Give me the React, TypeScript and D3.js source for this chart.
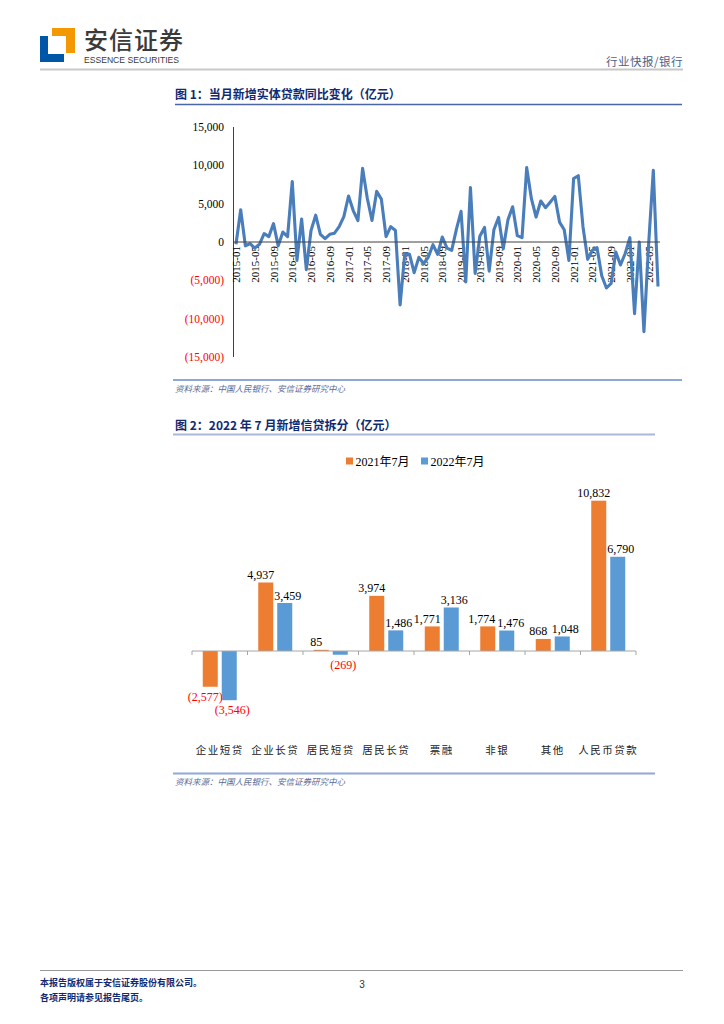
import React from "react";
import * as d3 from "d3";

// ---------- Chart 1 data: 当月新增实体贷款同比变化 (亿元), monthly 2015-01 .. 2022-07 ----------
const loanYoYChange: number[] = [
  -300, 4200, -500, -200, -800, -300, 1100, 700, 2400, -500, 1300, 700,
  7900, -2400, 3000, -3600, 1500, 3500, 1000, 450, 1000, 1150, 2000, 3300,
  6000, 4100, 2800, 9600, 5700, 2800, 6600, 5600, 700, 2000, 1500, -8200,
  -1500, -1600, -4000, -2000, -2800, -2000, -350, -1600, 650, -800, -1100, 1650,
  4000, -5200, 7100, -4100, 750, 1900, -3800, 1600, 3200, -870, 2900, 4600,
  830, 560, 9700, 5650, 3260, 5350, 4480, 5200, 5950, 2600, 1600, -2400,
  8260, 8650, 2000, -2260, -1100, -740, -4400, -6000, -5400, -1300, -3000, -1500,
  560, -9350, 0, -11700, -300, 9350, -5800,
];
const xTickLabels: string[] = [
  "2015-01", "2015-05", "2015-09", "2016-01", "2016-05", "2016-09",
  "2017-01", "2017-05", "2017-09", "2018-01", "2018-05", "2018-09",
  "2019-01", "2019-05", "2019-09", "2020-01", "2020-05", "2020-09",
  "2021-01", "2021-05", "2021-09", "2022-01", "2022-05",
];
const xTickStep = 4;
const yTicks1: number[] = [15000, 10000, 5000, 0, -5000, -10000, -15000];

// ---------- Chart 2 data: 2022年7月新增信贷拆分 (亿元) ----------
const categories: string[] = ["企业短贷", "企业长贷", "居民短贷", "居民长贷", "票融", "非银", "其他", "人民币贷款"];
const seriesNames: string[] = ["2021年7月", "2022年7月"];
const values2021: number[] = [-2577, 4937, 85, 3974, 1771, 1774, 868, 10832];
const values2022: number[] = [-3546, 3459, -269, 1486, 3136, 1476, 1048, 6790];
const seriesColors: string[] = ["#ED7D31", "#5B9BD5"];

const fmt = d3.format(",");
const fmtNum = (v: number) => (v < 0 ? `(${fmt(-v)})` : fmt(v));

const SERIF = "'Liberation Serif', 'Times New Roman', 'Noto Sans CJK SC', serif";
const CJK = "'Noto Sans CJK SC', sans-serif";
const TITLE_BLUE = "#102a72";

// approximate width of a numeric label in 12px serif
const labelWidth = (s: string) => s.split("").reduce((w, ch) => w + (/[0-9]/.test(ch) ? 6 : ch === "," ? 3 : 4), 0);

function Header() {
  return (
    <g>
      {/* logo */}
      <rect x={52} y={28} width={23} height={8} fill="#F39800" />
      <rect x={66} y={28} width={9} height={25} fill="#F39800" />
      <rect x={40} y={36} width={8} height={26} fill="#0057A8" />
      <rect x={40} y={54} width={24} height={8} fill="#0057A8" />
      <text x={84} y={49} fontFamily={CJK} fontSize={24} fontWeight={500} fill="#3a3a3a" letterSpacing={1}>安信证券</text>
      <text x={84} y={63} fontFamily="'Liberation Sans Narrow', 'Liberation Sans', sans-serif" fontSize={8.5} fill="#3a3a3a" textLength={95} lengthAdjust="spacingAndGlyphs">ESSENCE SECURITIES</text>
      <text x={683} y={66} textAnchor="end" fontFamily={CJK} fontSize={11.5} fill="#4d6289" letterSpacing={0.5}>行业快报/银行</text>
      <line x1={40} x2={683} y1={69.5} y2={69.5} stroke="#c8c8c8" strokeWidth={2} />
    </g>
  );
}

function Chart1() {
  const x = d3.scaleLinear().domain([0, loanYoYChange.length - 1]).range([236, 658]);
  const y = d3.scaleLinear().domain([-15000, 15000]).range([357, 127]);
  const line = d3.line<number>().x((_, i) => x(i)).y((d) => y(d));
  return (
    <g>
      <text x={175} y={99} fontFamily={CJK} fontSize={12} fontWeight={700} fill={TITLE_BLUE}>图 1：当月新增实体贷款同比变化（亿元）</text>
      <line x1={175} x2={682} y1={104.5} y2={104.5} stroke="#4a66a8" strokeWidth={1.5} />
      {/* y axis */}
      <line x1={233.5} x2={233.5} y1={127} y2={357} stroke="#404040" strokeWidth={1} />
      {yTicks1.map((t) => (
        <text key={t} x={224} y={y(t) + 4} textAnchor="end" fontFamily={SERIF} fontSize={11.5} fill={t < 0 ? "#ff0000" : "#000"}>
          {t === 0 ? "0" : fmtNum(t)}
        </text>
      ))}
      {/* x labels */}
      {xTickLabels.map((lab, k) => {
        const px = x(k * xTickStep);
        return (
          <text key={lab} transform={`translate(${px + 4},${246}) rotate(-90)`} textAnchor="end" fontFamily={SERIF} fontSize={11} fill="#000">
            {lab}
          </text>
        );
      })}
      <path d={line(loanYoYChange) || ""} fill="none" stroke="#4a7ebb" strokeWidth={3.1} strokeLinejoin="round" />
      <line x1={233.5} x2={660} y1={y(0)} y2={y(0)} stroke="#404040" strokeWidth={1} />
      <line x1={173} x2={682} y1={380} y2={380} stroke="#8fa8d8" strokeWidth={2} />
      <text x={175} y={392} fontFamily={CJK} fontSize={8.5} fontStyle="italic" fill="#5a6b95">资料来源：中国人民银行、安信证券研究中心</text>
    </g>
  );
}

function Chart2() {
  const x0 = d3.scaleBand<string>().domain(categories).range([192, 636]).paddingInner(0).paddingOuter(0);
  const x1 = d3.scaleBand<string>().domain(seriesNames).range([0, x0.bandwidth()]).paddingInner(0.21).paddingOuter(0.566);
  const y = d3.scaleLinear().domain([-6000, 12000]).range([651 + 6000 * 0.013876, 651 - 12000 * 0.013876]);
  const series = [values2021, values2022];

  // data-label placement: small per-series shift, then push apart colliding pairs
  const labelPos = categories.map((c, ci) => {
    const pos = series.map((vals, si) => {
      const v = vals[ci];
      const cx = (x0(c) as number) + (x1(seriesNames[si]) as number) + x1.bandwidth() / 2 + (si === 0 ? -5 : 3);
      const ly = v >= 0 ? y(v) - 3.5 : y(v) + 14;
      return { cx, ly, text: fmtNum(v), v };
    });
    const [a, b] = pos;
    const overlapX = (a.cx + labelWidth(a.text) / 2) - (b.cx - labelWidth(b.text) / 2) + 2;
    if (overlapX > 0 && Math.abs(a.ly - b.ly) < 11) {
      a.cx -= overlapX / 2;
      b.cx += overlapX / 2;
    }
    return pos;
  });

  return (
    <g>
      <text x={175} y={430} fontFamily={CJK} fontSize={12} fontWeight={700} fill={TITLE_BLUE}>图 2：2022 年 7 月新增信贷拆分（亿元）</text>
      <line x1={173} x2={655} y1={434.5} y2={434.5} stroke="#a9b8da" strokeWidth={2} />
      {/* legend */}
      {seriesNames.map((s, i) => {
        const lx = i === 0 ? 346 : 421;
        return (
          <g key={s}>
            <rect x={lx} y={457.5} width={7} height={7} fill={seriesColors[i]} />
            <text x={lx + 9.5} y={465.5} fontFamily={SERIF} fontSize={12} fill="#000">{s}</text>
          </g>
        );
      })}
      {/* bars */}
      {series.map((vals, si) =>
        vals.map((v, ci) => {
          const bx = (x0(categories[ci]) as number) + (x1(seriesNames[si]) as number);
          const bw = x1.bandwidth();
          const top = Math.min(y(v), y(0));
          const h = Math.abs(y(v) - y(0));
          return <rect key={`${si}-${ci}`} x={bx} y={top} width={bw} height={Math.max(h, 0.8)} fill={seriesColors[si]} />;
        })
      )}
      {/* axis */}
      <line x1={192} x2={636} y1={y(0)} y2={y(0)} stroke="#a6a6a6" strokeWidth={1} />
      {d3.range(categories.length + 1).map((k) => {
        const tx = 192 + k * x0.step();
        return <line key={k} x1={tx} x2={tx} y1={y(0)} y2={y(0) + 4} stroke="#a6a6a6" strokeWidth={1} />;
      })}
      {/* labels */}
      {labelPos.map((pair, ci) =>
        pair.map((p, si) => (
          <text key={`l${si}-${ci}`} x={p.cx} y={p.ly} textAnchor="middle" fontFamily={SERIF} fontSize={12} fill={p.v < 0 ? "#ff0000" : "#000"}>
            {p.text}
          </text>
        ))
      )}
      {categories.map((c) => (
        <text key={c} x={(x0(c) as number) + x0.bandwidth() / 2} y={754} textAnchor="middle" fontFamily={CJK} fontSize={10.5} letterSpacing={1.5} fill="#222">
          {c}
        </text>
      ))}
      <line x1={173} x2={655} y1={773.5} y2={773.5} stroke="#8fa8d8" strokeWidth={2} />
      <text x={175} y={785} fontFamily={CJK} fontSize={8.5} fontStyle="italic" fill="#5a6b95">资料来源：中国人民银行、安信证券研究中心</text>
    </g>
  );
}

function Footer() {
  return (
    <g>
      <line x1={40} x2={683} y1={970.5} y2={970.5} stroke="#999" strokeWidth={1.2} />
      <text x={40} y={986} fontFamily={CJK} fontSize={9} fontWeight={700} fill={TITLE_BLUE}>本报告版权属于安信证券股份有限公司。</text>
      <text x={40} y={1001} fontFamily={CJK} fontSize={9} fontWeight={700} fill={TITLE_BLUE}>各项声明请参见报告尾页。</text>
      <text x={362} y={988} textAnchor="middle" fontFamily="'Liberation Sans', sans-serif" fontSize={10} fill="#333">3</text>
    </g>
  );
}

export default function App() {
  return (
    <svg width={724} height={1024} viewBox="0 0 724 1024" style={{ position: "absolute", left: 0, top: 0, background: "#fff" }}>
      <rect x={0} y={0} width={724} height={1024} fill="#fff" />
      <Header />
      <Chart1 />
      <Chart2 />
      <Footer />
    </svg>
  );
}
